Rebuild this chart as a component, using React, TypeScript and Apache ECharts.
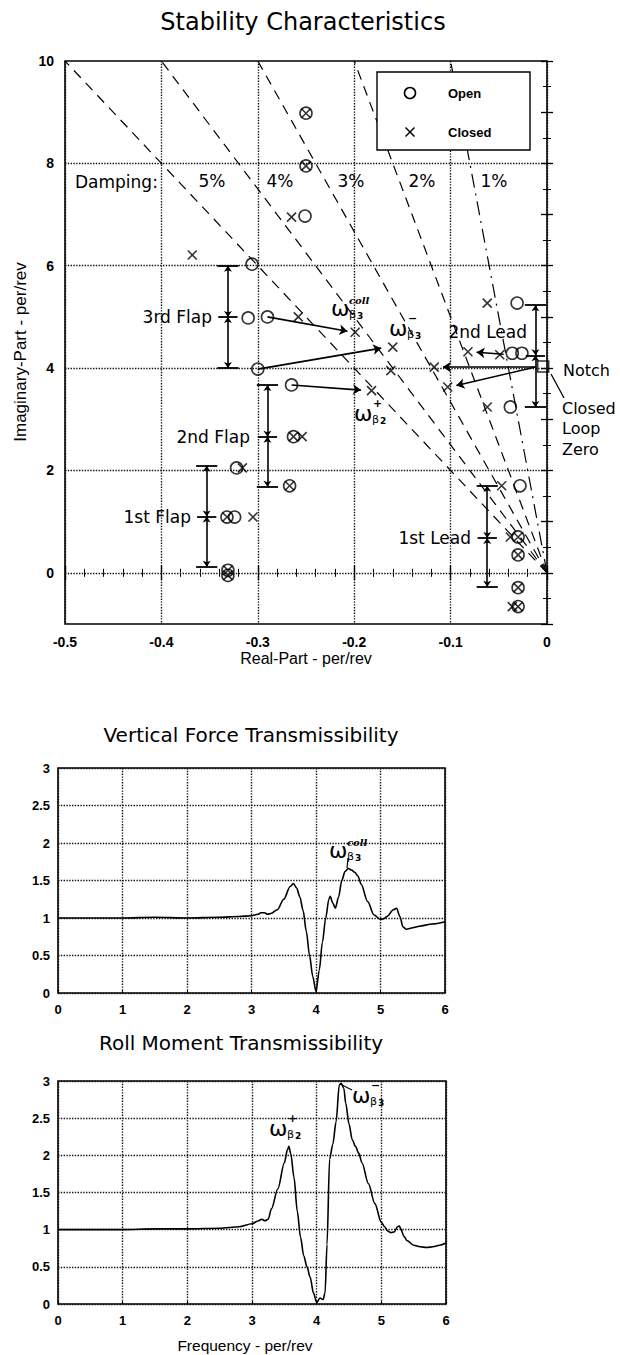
import React, { useEffect, useRef } from "react";
import * as echarts from "echarts";

// ---------- Stability characteristics (root locus) ----------
const realTicks = [-0.5, -0.4, -0.3, -0.2, -0.1, 0];
const imagGridValues = [0, 2, 4, 6, 8];
const dampingRatios = [0.05, 0.04, 0.03, 0.02, 0.01];
const dampingLabels = ["5%", "4%", "3%", "2%", "1%"];

const openPoles: [number, number][] = [
  [-0.25, 8.98], [-0.25, 7.95], [-0.251, 6.97], [-0.306, 6.03],
  [-0.31, 4.98], [-0.29, 5.0], [-0.3, 3.98], [-0.265, 3.67],
  [-0.263, 2.66], [-0.322, 2.05], [-0.267, 1.7], [-0.332, 1.09],
  [-0.324, 1.09], [-0.331, 0.05], [-0.331, -0.05],
  [-0.031, 5.27], [-0.036, 4.29], [-0.026, 4.29], [-0.038, 3.24],
  [-0.028, 1.7], [-0.03, 0.7], [-0.03, 0.35], [-0.03, -0.29], [-0.03, -0.66],
];

const closedPoles: [number, number][] = [
  [-0.25, 8.98], [-0.25, 7.95], [-0.265, 6.95], [-0.368, 6.21],
  [-0.258, 5.0], [-0.199, 4.7], [-0.16, 4.41], [-0.162, 3.95],
  [-0.182, 3.56], [-0.254, 2.66], [-0.263, 2.66], [-0.316, 2.05],
  [-0.267, 1.7], [-0.305, 1.09], [-0.332, 1.09], [-0.331, 0.05], [-0.331, -0.05],
  [-0.062, 5.27], [-0.082, 4.32], [-0.049, 4.26], [-0.117, 4.02],
  [-0.103, 3.63], [-0.062, 3.24], [-0.047, 1.7], [-0.038, 0.7],
  [-0.03, 0.7], [-0.03, 0.35], [-0.03, -0.29], [-0.036, -0.66], [-0.03, -0.66],
];

const notchZero: [number, number][] = [[-0.004, 4.03]];

const poleArrows: [number, number][][] = [
  [[-0.29, 5.0], [-0.207, 4.72]],
  [[-0.3, 3.98], [-0.172, 4.39]],
  [[-0.265, 3.67], [-0.193, 3.57]],
  [[-0.012, 4.02], [-0.108, 4.02]],
  [[-0.012, 4.02], [-0.094, 3.66]],
  [[-0.045, 4.27], [-0.073, 4.31]],
];

const bracketNames = ["3rd Flap", "2nd Flap", "1st Flap", "2nd Lead", "1st Lead"];
const bracketReal = [-0.331, -0.29, -0.353, -0.012, -0.062];
const bracketLow = [4.0, 1.68, 0.12, 3.24, -0.27];
const bracketMid = [5.0, 2.66, 1.1, 4.25, 0.68];
const bracketHigh = [6.0, 3.67, 2.09, 5.23, 1.7];

// ---------- Vertical force transmissibility ----------
const freqVF = [0, 0.5, 1, 1.5, 2, 2.5, 2.8, 3.0, 3.1, 3.15, 3.2, 3.25, 3.3, 3.4, 3.5, 3.6, 3.65, 3.7, 3.75, 3.8,
  3.85, 3.9, 3.95, 4.0, 4.05, 4.1, 4.15, 4.2, 4.22, 4.26, 4.3, 4.35, 4.4, 4.45, 4.5, 4.55, 4.6, 4.65, 4.7, 4.8,
  4.9, 5.0, 5.05, 5.1, 5.2, 5.25, 5.3, 5.35, 5.4, 5.5, 5.6, 5.8, 6.0];
const vertForce = [1, 1, 1, 1.01, 1, 1.01, 1.02, 1.03, 1.05, 1.07, 1.07, 1.05, 1.06, 1.11, 1.25, 1.42, 1.46, 1.4, 1.28, 1.1,
  0.82, 0.5, 0.22, 0.02, 0.3, 0.68, 1.0, 1.25, 1.29, 1.2, 1.13, 1.28, 1.5, 1.62, 1.66, 1.64, 1.61, 1.56, 1.45, 1.22,
  1.04, 0.98, 0.99, 1.02, 1.11, 1.13, 1.02, 0.88, 0.85, 0.87, 0.89, 0.92, 0.95];

// ---------- Roll moment transmissibility ----------
const freqRM = [0, 0.5, 1, 1.5, 2, 2.5, 2.8, 3.0, 3.1, 3.15, 3.2, 3.25, 3.3, 3.4, 3.5, 3.55, 3.57, 3.6, 3.65, 3.7,
  3.75, 3.8, 3.85, 3.9, 3.95, 4.0, 4.05, 4.1, 4.13, 4.16, 4.2, 4.25, 4.3, 4.35, 4.38, 4.42, 4.45, 4.5, 4.55, 4.6,
  4.65, 4.7, 4.8, 4.9, 5.0, 5.05, 5.1, 5.15, 5.2, 5.25, 5.28, 5.3, 5.35, 5.4, 5.5, 5.6, 5.7, 5.8, 5.9, 6.0];
const rollMoment = [1.0, 1.0, 1.0, 1.01, 1.01, 1.02, 1.04, 1.08, 1.12, 1.14, 1.12, 1.14, 1.28, 1.55, 1.9, 2.08, 2.12, 2.02, 1.7, 1.25,
  0.9, 0.65, 0.5, 0.36, 0.15, 0.02, 0.08, 0.06, 0.15, 0.8, 1.95, 2.15, 2.45, 2.95, 2.97, 2.9, 2.7, 2.42, 2.21, 2.12,
  2.03, 1.9, 1.62, 1.35, 1.1, 1.04, 0.98, 0.96, 0.97, 1.04, 1.05, 1.01, 0.91, 0.85, 0.79, 0.77, 0.76, 0.77, 0.79, 0.82];

const freqTicks = [0, 1, 2, 3, 4, 5, 6];

// ---------- helpers ----------
const BLACK = "#000";
const ANN_FONT = "DejaVu Sans";
const TICK_FONT = "Liberation Sans";

function T(text: string, x: number, y: number, o: any = {}) {
  return {
    type: "text",
    x,
    y,
    rotation: o.rot || 0,
    silent: true,
    z: 100,
    style: {
      text,
      fill: BLACK,
      fontSize: o.size || 17,
      fontFamily: o.family || ANN_FONT,
      fontWeight: o.weight || "normal",
      fontStyle: o.italic ? "italic" : "normal",
      align: o.align || "left",
      verticalAlign: "middle",
    },
  };
}

function L(x1: number, y1: number, x2: number, y2: number, w = 1.3) {
  return { type: "line", silent: true, z: 100, shape: { x1, y1, x2, y2 }, style: { stroke: BLACK, lineWidth: w } };
}

function omega(x: number, y: number, sup: string, sub: string, idx: string) {
  const els: any[] = [T("ω", x, y, { size: 22 })];
  if (sup === "coll") els.push(T("coll", x + 18, y - 8, { size: 10, italic: true, weight: "bold", family: "DejaVu Serif" }));
  else els.push(T(sup, x + 19, y - 10, { size: 11, weight: "bold" }));
  els.push(T(sub, x + 18, y + 6, { size: 11 }));
  els.push(T(idx, x + 26, y + 8, { size: 9, weight: "bold" }));
  return els;
}

const dottedGrid = { show: true, lineStyle: { type: "dotted", color: "#111", width: 1.4 } };
const tickLabel = { color: BLACK, fontFamily: TICK_FONT, fontWeight: "bold", fontSize: 13 };

export default function App() {
  const ref = useRef<HTMLDivElement>(null);

  useEffect(() => {
    if (!ref.current) return;
    const chart = echarts.init(ref.current, undefined, { renderer: "svg" });

    const dampingSeries = dampingRatios.map((z, i) => ({
      type: "line",
      xAxisIndex: 0,
      yAxisIndex: 0,
      data: [[0, 0], [-z * 10, 10]],
      showSymbol: false,
      silent: true,
      lineStyle: { color: BLACK, width: 1.2, type: i === 4 ? [14, 6, 2, 6] : [10, 7] },
      z: 2,
    }));

    const bracketArrows: any[] = [];
    const bracketBars: any[] = [];
    bracketNames.forEach((_, i) => {
      const x = bracketReal[i];
      bracketArrows.push({ coords: [[x, bracketMid[i]], [x, bracketHigh[i]]] });
      bracketArrows.push({ coords: [[x, bracketMid[i]], [x, bracketLow[i]]] });
      bracketBars.push({ coords: [[x - 0.011, bracketHigh[i]], [x + 0.011, bracketHigh[i]]] });
      bracketBars.push({ coords: [[x - 0.011, bracketLow[i]], [x + 0.011, bracketLow[i]]] });
      bracketBars.push({ coords: [[x - 0.01, bracketMid[i]], [x + 0.01, bracketMid[i]]] });
    });

    const option: any = {
      animation: false,
      backgroundColor: "#fff",
      grid: [
        { left: 65, top: 61, width: 482, height: 563, show: true, borderColor: BLACK, borderWidth: 1.6, backgroundColor: "transparent" },
        { left: 58, top: 768, width: 387, height: 225, show: true, borderColor: BLACK, borderWidth: 1.6, backgroundColor: "transparent" },
        { left: 58, top: 1081, width: 388, height: 223, show: true, borderColor: BLACK, borderWidth: 1.6, backgroundColor: "transparent" },
      ],
      xAxis: [
        {
          gridIndex: 0, type: "value", min: realTicks[0], max: realTicks[realTicks.length - 1], interval: 0.1,
          axisLine: { show: false },
          axisTick: { show: true, inside: true, length: 7, lineStyle: { color: BLACK, width: 1.3 } },
          minorTick: { show: true, splitNumber: 5, length: 4, lineStyle: { color: BLACK, width: 1 } },
          axisLabel: { ...tickLabel, fontSize: 14, margin: 11, formatter: (v: number) => (Math.abs(v) < 1e-9 ? "0" : String(Math.round(v * 10) / 10)) },
          splitLine: dottedGrid,
        },
        {
          gridIndex: 0, type: "value", position: "top", min: -0.5, max: 0, interval: 0.1,
          axisLine: { show: false },
          axisTick: { show: true, inside: true, length: 7, lineStyle: { color: BLACK, width: 1.3 } },
          minorTick: { show: true, splitNumber: 5, length: 4, lineStyle: { color: BLACK, width: 1 } },
          axisLabel: { show: false },
          splitLine: { show: false },
        },
        {
          gridIndex: 1, type: "value", min: freqTicks[0], max: freqTicks[freqTicks.length - 1], interval: 1,
          axisLine: { show: false },
          axisTick: { show: true, inside: true, length: 3, lineStyle: { color: BLACK } },
          axisLabel: { ...tickLabel, margin: 10 },
          splitLine: dottedGrid,
        },
        {
          gridIndex: 2, type: "value", min: freqTicks[0], max: freqTicks[freqTicks.length - 1], interval: 1,
          axisLine: { show: false },
          axisTick: { show: true, inside: true, length: 3, lineStyle: { color: BLACK } },
          axisLabel: { ...tickLabel, margin: 10 },
          splitLine: dottedGrid,
        },
      ],
      yAxis: [
        {
          gridIndex: 0, type: "value", min: -1, max: 10, interval: 1,
          axisLine: { show: false },
          axisTick: { show: true, inside: true, length: 6, lineStyle: { color: BLACK, width: 1.3 } },
          minorTick: { show: true, splitNumber: 2, length: 4, lineStyle: { color: BLACK, width: 1 } },
          axisLabel: { ...tickLabel, fontSize: 14, margin: 11, formatter: (v: number) => (v >= 0 && v % 2 === 0 ? String(v) : "") },
          splitLine: { show: false },
        },
        {
          gridIndex: 0, type: "value", position: "right", min: -1, max: 10, interval: 1,
          axisLine: { show: false },
          axisTick: { show: true, inside: true, length: 6, lineStyle: { color: BLACK, width: 1.3 } },
          minorTick: { show: true, splitNumber: 2, length: 4, lineStyle: { color: BLACK, width: 1 } },
          axisLabel: { show: false },
          splitLine: { show: false },
        },
        {
          gridIndex: 1, type: "value", min: 0, max: 3, interval: 0.5,
          axisLine: { show: false },
          axisTick: { show: false },
          axisLabel: { ...tickLabel, margin: 8 },
          splitLine: dottedGrid,
        },
        {
          gridIndex: 2, type: "value", min: 0, max: 3, interval: 0.5,
          axisLine: { show: false },
          axisTick: { show: false },
          axisLabel: { ...tickLabel, margin: 8 },
          splitLine: dottedGrid,
        },
      ],
      series: [
        ...dampingSeries,
        {
          name: "Open",
          type: "scatter",
          xAxisIndex: 0,
          yAxisIndex: 0,
          data: openPoles,
          symbol: "circle",
          symbolSize: 12,
          itemStyle: { color: "rgba(255,255,255,0)", borderColor: BLACK, borderWidth: 1.6 },
          z: 5,
          markLine: {
            silent: true,
            symbol: ["none", "none"],
            label: { show: false },
            lineStyle: { type: "dotted", color: "#111", width: 1.4 },
            data: imagGridValues.map((v) => ({ yAxis: v })),
          },
        },
        {
          name: "Closed",
          type: "scatter",
          xAxisIndex: 0,
          yAxisIndex: 0,
          data: closedPoles,
          symbol: "path://M0,0L10,10M10,0L0,10",
          symbolSize: 9,
          itemStyle: { color: "rgba(0,0,0,0)", borderColor: BLACK, borderWidth: 1.6 },
          z: 6,
        },
        {
          name: "Notch",
          type: "scatter",
          xAxisIndex: 0,
          yAxisIndex: 0,
          data: notchZero,
          symbol: "rect",
          symbolSize: 11,
          itemStyle: { color: "rgba(255,255,255,0)", borderColor: BLACK, borderWidth: 1.6 },
          z: 6,
        },
        {
          type: "lines",
          coordinateSystem: "cartesian2d",
          xAxisIndex: 0,
          yAxisIndex: 0,
          data: poleArrows.map((c) => ({ coords: c })),
          symbol: ["none", "arrow"],
          symbolSize: 8,
          lineStyle: { color: BLACK, width: 1.6, opacity: 1 },
          silent: true,
          z: 7,
        },
        {
          type: "lines",
          coordinateSystem: "cartesian2d",
          xAxisIndex: 0,
          yAxisIndex: 0,
          data: bracketArrows,
          symbol: ["arrow", "arrow"],
          symbolSize: 6,
          lineStyle: { color: BLACK, width: 1.6, opacity: 1 },
          silent: true,
          z: 7,
        },
        {
          type: "lines",
          coordinateSystem: "cartesian2d",
          xAxisIndex: 0,
          yAxisIndex: 0,
          data: bracketBars,
          symbol: ["none", "none"],
          lineStyle: { color: BLACK, width: 1.8, opacity: 1 },
          silent: true,
          z: 7,
        },
        {
          name: "Vertical Force",
          type: "line",
          xAxisIndex: 2,
          yAxisIndex: 2,
          data: freqVF.map((f, i) => [f, vertForce[i]]),
          showSymbol: false,
          smooth: 0.3,
          smoothMonotone: "x",
          lineStyle: { color: BLACK, width: 1.6 },
          z: 5,
        },
        {
          name: "Roll Moment",
          type: "line",
          xAxisIndex: 3,
          yAxisIndex: 3,
          data: freqRM.map((f, i) => [f, rollMoment[i]]),
          showSymbol: false,
          smooth: 0.3,
          smoothMonotone: "x",
          lineStyle: { color: BLACK, width: 1.6 },
          z: 5,
        },
      ],
      graphic: [
        // titles
        T("Stability Characteristics", 303, 22, { size: 24, align: "center" }),
        T("Vertical Force Transmissibility", 251, 735, { size: 20, align: "center" }),
        T("Roll Moment Transmissibility", 241, 1043, { size: 20, align: "center" }),
        // axis titles
        T("Real-Part - per/rev", 306, 658, { size: 16, family: TICK_FONT, align: "center" }),
        T("Imaginary-Part - per/rev", 20, 352, { size: 17, family: TICK_FONT, align: "center", rot: Math.PI / 2 }),
        T("Frequency - per/rev", 245, 1345, { size: 15.5, family: TICK_FONT, align: "center" }),
        // damping labels
        T("Damping:", 75, 182, { size: 17 }),
        ...dampingLabels.map((t, i) => T(t, [212, 280, 351, 422, 494][i], 181, { size: 17, align: "center" })),
        // legend
        { type: "rect", silent: true, z: 100, shape: { x: 377, y: 72, width: 153, height: 78 }, style: { fill: "#fff", stroke: BLACK, lineWidth: 1.4 } },
        { type: "circle", silent: true, z: 101, shape: { cx: 410, cy: 93, r: 5.5 }, style: { fill: "none", stroke: BLACK, lineWidth: 1.6 } },
        L(405.5, 127.5, 414.5, 136.5, 1.5),
        L(414.5, 127.5, 405.5, 136.5, 1.5),
        T("Open", 448, 93, { size: 13, family: TICK_FONT, weight: "bold" }),
        T("Closed", 448, 132, { size: 13, family: TICK_FONT, weight: "bold" }),
        // bracket labels
        T(bracketNames[0], 212, 317, { align: "right" }),
        T(bracketNames[1], 250, 437, { align: "right" }),
        T(bracketNames[2], 191, 517, { align: "right" }),
        T(bracketNames[3], 527, 332, { align: "right" }),
        T(bracketNames[4], 471, 538, { align: "right" }),
        // notch annotation
        T("Notch", 563, 370, { size: 16 }),
        T("Closed", 562, 408, { size: 16 }),
        T("Loop", 562, 428, { size: 16 }),
        T("Zero", 562, 449, { size: 16 }),
        L(551, 374, 564, 398, 1.3),
        // omega labels on root locus
        ...omega(331, 308, "coll", "β", "3"),
        ...omega(389, 328, "−", "β", "3"),
        ...omega(354, 413, "+", "β", "2"),
        // omega labels on transmissibility
        ...omega(329, 850, "coll", "β", "3"),
        L(348, 858, 347, 868, 1.2),
        ...omega(269, 1128, "+", "β", "2"),
        ...omega(352, 1095, "−", "β", "3"),
        L(340, 1084, 352, 1090, 1.2),
      ],
    };

    chart.setOption(option);
    return () => chart.dispose();
  }, []);

  return <div ref={ref} style={{ position: "absolute", left: 0, top: 0, width: 620, height: 1355, background: "#fff" }} />;
}
